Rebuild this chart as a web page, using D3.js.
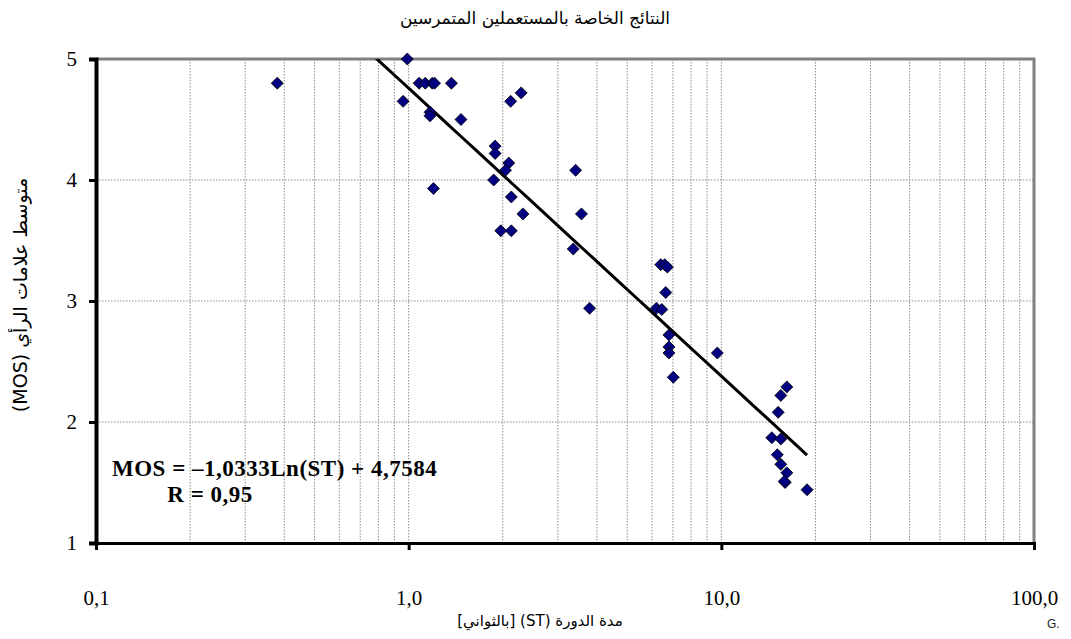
<!DOCTYPE html>
<html>
<head>
<meta charset="utf-8">
<script src="https://cdn.jsdelivr.net/npm/d3@7"></script>
<style>
  body { margin: 0; background: #fff; }
  svg { display: block; }
  .grid line { stroke: #8c8c8c; stroke-width: 1; stroke-dasharray: 1.5,1.5; }
</style>
</head>
<body>
<div id="chart"></div>
<script>
// Valores: duración de sesión (ST, segundos) y MOS
const stSeconds = [0.38, 0.99, 1.08, 1.13, 1.19, 1.21, 1.37, 0.96, 1.17, 1.17,
  1.47, 2.12, 2.29, 1.89, 1.89, 2.09, 2.04, 1.87, 1.20, 2.13,
  2.32, 1.97, 2.13, 3.42, 3.57, 3.36, 3.79, 6.40, 6.59, 6.72,
  6.64, 6.20, 6.45, 6.80, 6.80, 6.80, 7.02, 9.71, 16.2, 15.5,
  15.2, 14.5, 15.5, 15.1, 15.5, 16.2, 16.0, 15.9, 18.8];
const mosScores = [4.80, 5.00, 4.80, 4.80, 4.80, 4.80, 4.80, 4.65, 4.56, 4.53,
  4.50, 4.65, 4.72, 4.28, 4.22, 4.14, 4.08, 4.00, 3.93, 3.86,
  3.72, 3.58, 3.58, 4.08, 3.72, 3.43, 2.94, 3.30, 3.30, 3.28,
  3.07, 2.94, 2.93, 2.72, 2.62, 2.57, 2.37, 2.57, 2.29, 2.22,
  2.08, 1.87, 1.86, 1.73, 1.65, 1.58, 1.50, 1.51, 1.44];

const xTicks = [0.1, 1, 10, 100];
const xTickLabels = ["0,1", "1,0", "10,0", "100,0"];
const yTicks = [1, 2, 3, 4, 5];

// Línea de tendencia: MOS = -1,0333 Ln(ST) + 4,7584
const fitSlope = -1.0333;
const fitIntercept = 4.7584;

const width = 1071, height = 639;
const plotLeft = 96, plotRight = 1034, plotTop = 59, plotBottom = 543;
const serifFont = "'Liberation Serif', 'Times New Roman', serif";

const svg = d3.select("#chart").append("svg")
  .attr("width", width)
  .attr("height", height);

const x = d3.scaleLog().domain([0.1, 100]).range([plotLeft, plotRight]);
const y = d3.scaleLinear().domain([1, 5]).range([plotBottom, plotTop]);

// Rejilla vertical (menores del eje log)
const minorTicks = x.ticks().filter(v => v > 0.1 && v < 100);
svg.append("g").attr("class", "grid")
  .selectAll("line")
  .data(minorTicks)
  .enter().append("line")
  .attr("x1", d => x(d)).attr("x2", d => x(d))
  .attr("y1", plotTop).attr("y2", plotBottom);

// Rejilla horizontal
svg.append("g").attr("class", "grid")
  .selectAll("line")
  .data(yTicks.filter(v => v > 1 && v < 5))
  .enter().append("line")
  .attr("x1", plotLeft).attr("x2", plotRight)
  .attr("y1", d => y(d)).attr("y2", d => y(d));

// Bordes superior y derecho grises
svg.append("path")
  .attr("d", "M" + plotLeft + "," + plotTop + "H" + plotRight + "V" + plotBottom)
  .attr("fill", "none")
  .attr("stroke", "#808080")
  .attr("stroke-width", 3);

// Clip del área de trazado
svg.append("clipPath").attr("id", "plot-clip")
  .append("rect")
  .attr("x", plotLeft).attr("y", plotTop)
  .attr("width", plotRight - plotLeft).attr("height", plotBottom - plotTop);

// Línea de tendencia
const xMin = d3.min(stSeconds), xMax = d3.max(stSeconds);
const fitPoints = d3.range(0, 41).map(i => {
  const st = Math.exp(Math.log(xMin) + (Math.log(xMax) - Math.log(xMin)) * i / 40);
  return [st, fitSlope * Math.log(st) + fitIntercept];
});
svg.append("path")
  .datum(fitPoints)
  .attr("clip-path", "url(#plot-clip)")
  .attr("fill", "none")
  .attr("stroke", "#000")
  .attr("stroke-width", 3)
  .attr("d", d3.line().x(d => x(d[0])).y(d => y(d[1])));

// Puntos (rombos)
const points = stSeconds.map((st, i) => ({st: st, mos: mosScores[i]}));
svg.append("g")
  .selectAll("path")
  .data(points)
  .enter().append("path")
  .attr("transform", d => "translate(" + x(d.st) + "," + y(d.mos) + ")")
  .attr("d", "M0,-6L6,0L0,6L-6,0Z")
  .attr("fill", "#000080")
  .attr("stroke", "#000")
  .attr("stroke-width", 0.8);

// Eje X
const xAxis = svg.append("g")
  .attr("transform", "translate(0," + plotBottom + ")")
  .call(d3.axisBottom(x)
    .tickValues(xTicks)
    .tickFormat((d, i) => xTickLabels[i])
    .tickSizeOuter(0)
    .tickSize(7)
    .tickPadding(40))
  .attr("font-family", serifFont)
  .attr("font-size", 21);
xAxis.select(".domain").attr("stroke", "#000").attr("stroke-width", 3);
xAxis.selectAll(".tick line").attr("stroke", "#000").attr("stroke-width", 3);

// Eje Y
const yAxis = svg.append("g")
  .attr("transform", "translate(" + plotLeft + ",0)")
  .call(d3.axisLeft(y)
    .tickValues(yTicks)
    .tickFormat(d3.format("d"))
    .tickSizeOuter(0)
    .tickSize(7)
    .tickPadding(12))
  .attr("font-family", serifFont)
  .attr("font-size", 21);
yAxis.select(".domain").attr("stroke", "#000").attr("stroke-width", 4);
yAxis.selectAll(".tick line").attr("stroke", "#000").attr("stroke-width", 3);

// Ecuación
const eq = svg.append("g")
  .style("font-family", serifFont)
  .style("font-weight", "bold")
  .style("font-size", "23px")
  .style("letter-spacing", "0.5px");
eq.append("text").attr("x", 112).attr("y", 476)
  .text("MOS = \u20131,0333Ln(ST) + 4,7584");
eq.append("text").attr("x", 210).attr("y", 502).attr("text-anchor", "middle")
  .text("R = 0,95");

// Títulos
const arabicFont = "'DejaVu Sans', 'Noto Sans', sans-serif";
svg.append("text")
  .attr("x", 535).attr("y", 24)
  .attr("text-anchor", "middle")
  .attr("direction", "rtl")
  .style("font-family", arabicFont)
  .style("font-size", "17px")
  .text("النتائج الخاصة بالمستعملين المتمرسين");

svg.append("text")
  .attr("x", 540).attr("y", 626)
  .attr("text-anchor", "middle")
  .attr("direction", "rtl")
  .style("font-family", arabicFont)
  .style("font-size", "15px")
  .text("مدة الدورة (ST) [بالثواني]");

svg.append("text")
  .attr("transform", "translate(27,295) rotate(-90)")
  .attr("text-anchor", "middle")
  .attr("direction", "rtl")
  .style("font-family", arabicFont)
  .style("font-size", "19px")
  .text("متوسط علامات الرأي (MOS)");

svg.append("text")
  .attr("x", 1047).attr("y", 628)
  .style("font-family", "'Liberation Sans', Arial, sans-serif")
  .style("font-size", "12px")
  .attr("fill", "#222")
  .text("G.");
</script>
</body>
</html>
